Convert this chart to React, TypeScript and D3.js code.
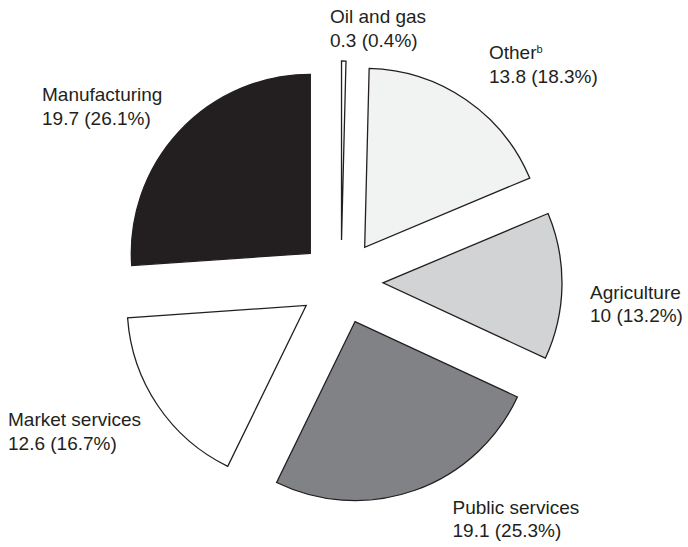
import React from "react";
import * as d3 from "d3";

const categories = ["Oil and gas", "Other", "Agriculture", "Public services", "Market services", "Manufacturing"];
const values = [0.3, 13.8, 10, 19.1, 12.6, 19.7];
const superscripts = ["", "b", "", "", "", ""];
const fills = ["#ffffff", "#f1f2f2", "#d1d3d4", "#808285", "#ffffff", "#231f20"];

const W = 688;
const H = 547;
const CX = 341;
const CY = 282;
const R = 179;
const EXPLODE = 42;
const FONT = "'Liberation Sans', Arial, sans-serif";

// label anchor (left x, first baseline y)
const labelPos: [number, number][] = [
  [330, 23],
  [489, 59],
  [590, 298.5],
  [452.5, 513.5],
  [8, 426],
  [42, 101],
];

export default function App() {
  const total = d3.sum(values);
  const pie = d3
    .pie<number>()
    .sort(null)
    .startAngle(0)
    .endAngle(2 * Math.PI)
    .value((d) => d);
  const arcs = pie(values);
  const arc = d3.arc<d3.PieArcDatum<number>>().innerRadius(0).outerRadius(R);
  const fmt = d3.format(".1f");

  return (
    <svg
      width={W}
      height={H}
      style={{ position: "absolute", left: 0, top: 0, background: "#fff" }}
    >
      <g transform={`translate(${CX},${CY})`}>
        {arcs.map((a, i) => {
          const mid = (a.startAngle + a.endAngle) / 2;
          const dx = Math.sin(mid) * EXPLODE;
          const dy = -Math.cos(mid) * EXPLODE;
          return (
            <path
              key={i}
              d={arc(a) || ""}
              transform={`translate(${dx},${dy})`}
              fill={fills[i]}
              stroke="#231f20"
              strokeWidth={1.3}
              strokeLinejoin="miter"
            />
          );
        })}
      </g>
      {categories.map((c, i) => {
        const [x, y] = labelPos[i];
        const pct = fmt((values[i] / total) * 100);
        return (
          <text key={c} x={x} y={y} fontFamily={FONT} fontSize={19} fill="#231f20">
            <tspan x={x} y={y}>
              {c}
              {superscripts[i] ? (
                <tspan fontSize={11} dy={-6}>
                  {superscripts[i]}
                </tspan>
              ) : null}
            </tspan>
            <tspan x={x} y={y + 23.5}>
              {`${values[i]} (${pct}%)`}
            </tspan>
          </text>
        );
      })}
    </svg>
  );
}
